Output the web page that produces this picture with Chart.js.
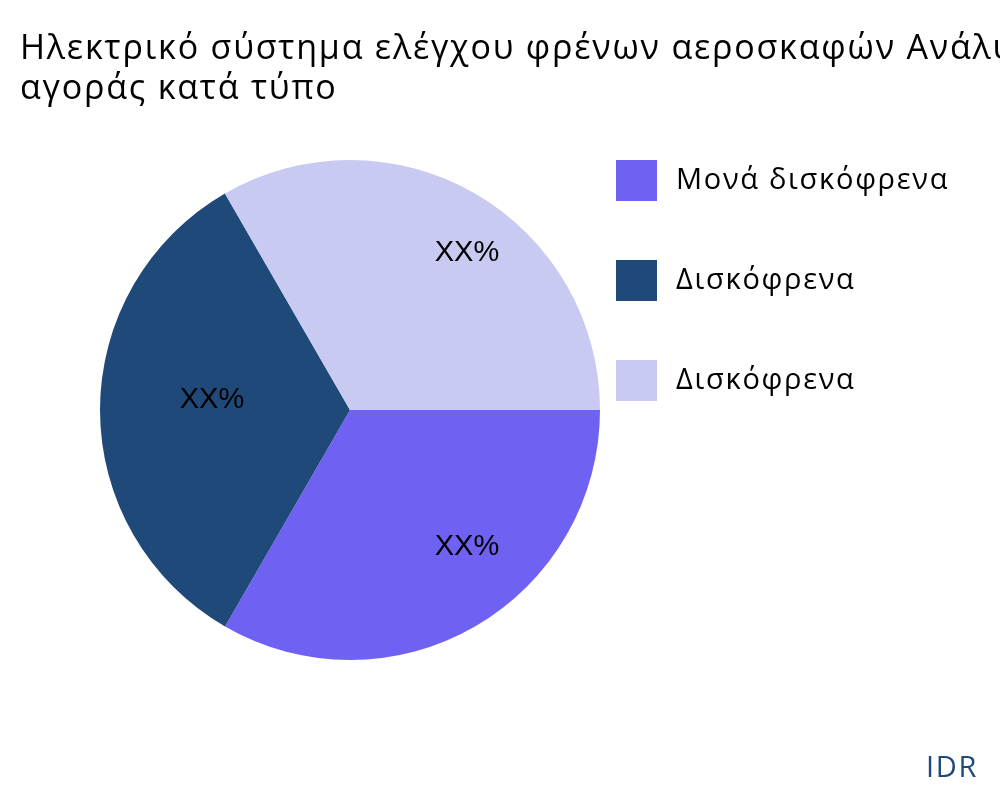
<!DOCTYPE html>
<html><head><meta charset="utf-8">
<script src="https://cdn.jsdelivr.net/npm/chart.js@4"></script>
<style>body{margin:0;background:#fff}</style>
</head><body>
<canvas id="c" width="1000" height="800"></canvas>
<script>
const labels = ['Μονά δισκόφρενα', 'Δισκόφρενα', 'Δισκόφρενα'];
const values = [33.33, 33.33, 33.34];
const valueText = ['XX%', 'XX%', 'XX%'];
const colors = ['#6f61f2', '#1f4978', '#c9caf2'];
const titleLines = ['Ηλεκτρικό σύστημα ελέγχου φρένων αεροσκαφών Ανάλυση', 'αγοράς κατά τύπο'];

const extras = {
  id: 'extras',
  afterDraw(chart) {
    const g = chart.ctx;
    g.save();
    g.fillStyle = '#000';
    g.textBaseline = 'alphabetic';
    g.font = '34px "Open Sans"';
    g.letterSpacing = '1.8px';
    g.fillText(titleLines[0], 20, 59);
    g.fillText(titleLines[1], 20, 99);
    g.letterSpacing = '0px';
    // slice labels
    g.font = '29px "Liberation Sans"';
    g.textAlign = 'center';
    g.textBaseline = 'middle';
    chart.getDatasetMeta(0).data.forEach((a, i) => {
      const mid = (a.startAngle + a.endAngle) / 2;
      const r = a.outerRadius * 0.68;
      g.fillText(valueText[i], a.x + Math.cos(mid) * r + 32, a.y + Math.sin(mid) * r - 10);
    });
    // legend
    g.textAlign = 'left';
    g.font = '29px "Open Sans"';
    g.letterSpacing = '1.7px';
    labels.forEach((l, i) => {
      const y = 160 + i * 100;
      g.fillStyle = colors[i];
      g.fillRect(616, y, 41, 41);
      g.fillStyle = '#000';
      g.fillText(l, 676, y + 21);
    });
    g.fillStyle = '#1f4978';
    g.fillText('IDR', 926, 769);
    g.restore();
  }
};

new Chart(document.getElementById('c'), {
  type: 'pie',
  data: { labels, datasets: [{ data: values, backgroundColor: colors, borderWidth: 0 }] },
  options: {
    responsive: false,
    animation: false,
    rotation: 90,
    layout: { padding: { left: 100, right: 400, top: 160, bottom: 140 } },
    plugins: { legend: { display: false }, tooltip: { enabled: false } }
  },
  plugins: [extras]
});
</script>
</body></html>
